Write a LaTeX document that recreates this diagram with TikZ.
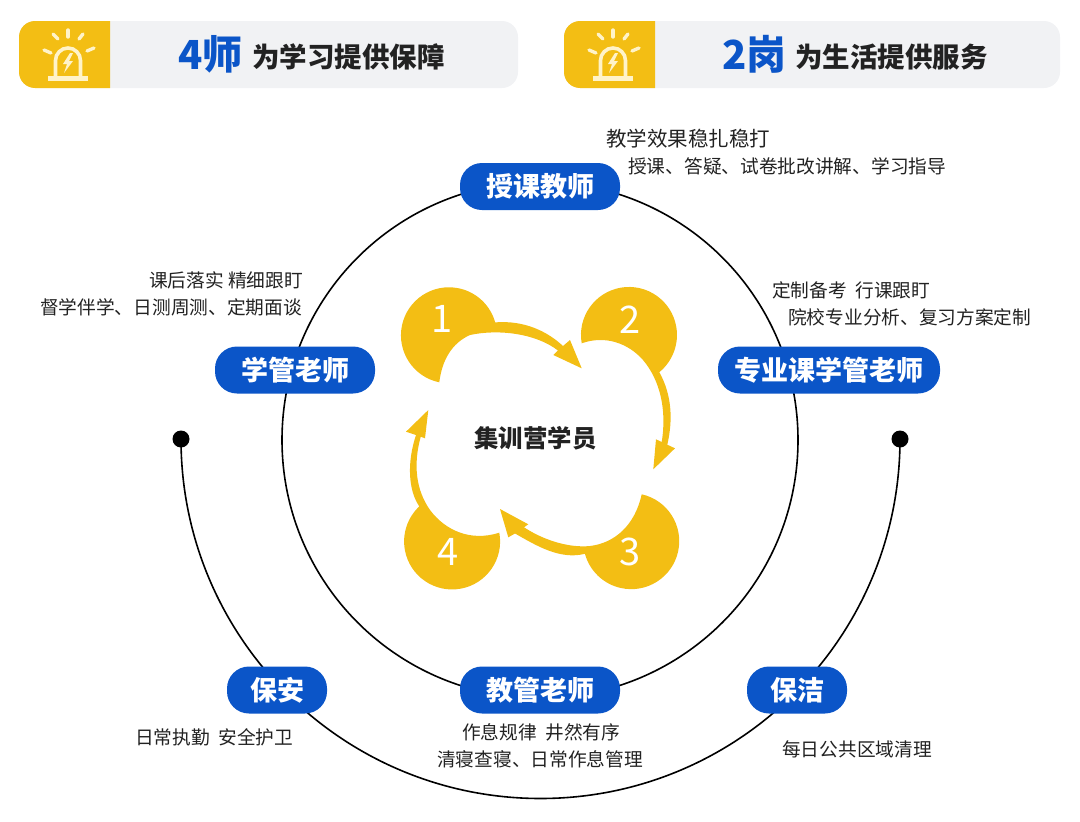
\documentclass[tikz,border=0pt]{standalone}
\usepackage{fontspec}
\setmainfont{Noto Sans CJK SC}
\definecolor{teamblue}{HTML}{0B55C8}
\definecolor{campyellow}{HTML}{F3BE14}
\definecolor{bargray}{HTML}{F1F2F4}
\definecolor{lampcream}{HTML}{FFF3C9}
\definecolor{inktext}{HTML}{222222}
\tikzset{
    rolebox/.style={
        fill=teamblue, text=white, rounded corners=22, minimum height=47,
        inner sep=0, font=\fontsize{27}{30}\selectfont\bfseries
    },
    note/.style={
        anchor=west, inner sep=0, text=inktext, font=\fontsize{18.7}{22}\selectfont
    },
    digit/.style={
        text=white, inner sep=0, font=\fontsize{38}{40}\selectfont
    },
    lamp/.pic={
        \fill[lampcream] (-20,28) rectangle (20,33);
        \draw[lampcream, line width=3.6]
            (-12.5,28) -- (-12.5,12.5) arc (180:360:12.5 and 12.5) -- (12.5,28);
        \fill[lampcream] (2,5) -- (-5,16) -- (-1,16) -- (-4,25) -- (5,13) -- (1,13) -- (5,5) -- cycle;
        \draw[lampcream, line width=3.4, line cap=round] (0,-18) -- (0,-11);
        \draw[lampcream, line width=3.4, line cap=round] (-15,-14) -- (-10,-9);
        \draw[lampcream, line width=3.4, line cap=round] (15,-14) -- (11,-9);
        \draw[lampcream, line width=3.4, line cap=round] (-24,2) -- (-17,5);
        \draw[lampcream, line width=3.4, line cap=round] (26,0) -- (19,3);
    }
}
\begin{document}
\begin{tikzpicture}[x=1pt,y=-1pt]
    \useasboundingbox (0,0) rectangle (1080,822);
    % header bars
    \fill[bargray, rounded corners=16] (19,21) rectangle (518,88);
    \fill[campyellow] (110,21) [rounded corners=16] -- (19,21) -- (19,88) [sharp corners] -- (110,88) -- cycle;
    \pic at (68,48) {lamp};
    \node[anchor=base west, inner sep=0, text=teamblue, font=\fontsize{40}{42}\selectfont\bfseries] (headfour) at (178,69) {4师};
    \node[anchor=base west, inner sep=0, text=inktext, font=\fontsize{27.5}{30}\selectfont\bfseries] (headfourtext) at (252,67) {为学习提供保障};
    \fill[bargray, rounded corners=16] (564,21) rectangle (1060,88);
    \fill[campyellow] (655,21) [rounded corners=16] -- (564,21) -- (564,88) [sharp corners] -- (655,88) -- cycle;
    \pic at (613,48) {lamp};
    \node[anchor=base west, inner sep=0, text=teamblue, font=\fontsize{40}{42}\selectfont\bfseries] (headtwo) at (722,69) {2岗};
    \node[anchor=base west, inner sep=0, text=inktext, font=\fontsize{27.5}{30}\selectfont\bfseries] (headtwotext) at (795,67) {为生活提供服务};

    % rings
    \coordinate (hub) at (540,440);
    \node[circle, fill=black, inner sep=0, minimum size=17] (dotleft) at (181,439) {};
    \node[circle, fill=black, inner sep=0, minimum size=17] (dotright) at (900,439) {};
    \draw[line width=1.6] (hub) circle (258);
    \draw[line width=1.6] (dotleft.center) arc (180:0:359.5);

    % yellow arrows
    \fill[campyellow] (439.3,382.3) arc (101.6:344.4:48)
        .. controls (525,320) and (548,332) .. (563,346)
        -- (570,340) -- (581.7,368.3) -- (553.3,355) -- (558,350.5)
        .. controls (535,333) and (498,329) .. (470,335)
        .. controls (452,343) and (442,360) .. cycle;
    \fill[campyellow] (581.7,343.3) arc (170:410.8:48)
        .. controls (672,395) and (673,420) .. (667.3,444.7)
        -- (675,448.3) -- (653.3,469.3) -- (656,439.3) -- (661.7,442)
        .. controls (667,410) and (660,380) .. (643,360)
        .. controls (628,343) and (605,335) .. cycle;
    \fill[campyellow] (641.7,494.3) arc (282.6:524.7:48)
        .. controls (560,560) and (537,546) .. (515,533.5)
        -- (508.3,537.3) -- (500,509) -- (528.3,524.3) -- (524,527.3)
        .. controls (545,541) and (570,548) .. (590,546)
        .. controls (615,543) and (635,525) .. cycle;
    \fill[campyellow] (499.3,532.7) arc (-10.5:226.9:48)
        .. controls (408,490) and (407,462) .. (416,435)
        -- (406,431.7) -- (428.3,410) -- (425,438.3) -- (420.7,436.7)
        .. controls (413,465) and (416,490) .. (430,510)
        .. controls (445,530) and (470,542) .. cycle;
    \node[digit] (numone) at (442,319) {1};
    \node[digit] (numtwo) at (630,320) {2};
    \node[digit] (numthree) at (630,552) {3};
    \node[digit] (numfour) at (448,552) {4};
    \node[inner sep=0, text=inktext, font=\fontsize{24.4}{26}\selectfont\bfseries] (student) at (535.5,438) {集训营学员};

    % roles
    \node[rolebox, minimum width=160] (teacher) at (540,186.5) {授课教师};
    \node[rolebox, minimum width=160] (tutor) at (295,370) {学管老师};
    \node[rolebox, minimum width=222] (major) at (829,370) {专业课学管老师};
    \node[rolebox, minimum width=160] (dorm) at (540,690) {教管老师};
    \node[rolebox, minimum width=100] (guard) at (277,690) {保安};
    \node[rolebox, minimum width=100] (cleaner) at (797,690) {保洁};

    % notes
    \node[note, font=\fontsize{20.5}{22}\selectfont] (noteA) at (606,139) {教学效果稳扎稳打};
    \node[note] (noteB) at (628,166) {授课、答疑、试卷批改讲解、学习指导};
    \node[note] (noteC) at (149,280) {课后落实 精细跟盯};
    \node[note] (noteD) at (40,307) {督学伴学、日测周测、定期面谈};
    \node[note] (noteE) at (772,290) {定制备考\ \ 行课跟盯};
    \node[note] (noteF) at (788,317) {院校专业分析、复习方案定制};
    \node[note] (noteG) at (462,732) {作息规律\ \ 井然有序};
    \node[note] (noteH) at (437,759) {清寝查寝、日常作息管理};
    \node[note] (noteI) at (135,737) {日常执勤\ \ 安全护卫};
    \node[note] (noteJ) at (782,749) {每日公共区域清理};
\end{tikzpicture}
\end{document}
